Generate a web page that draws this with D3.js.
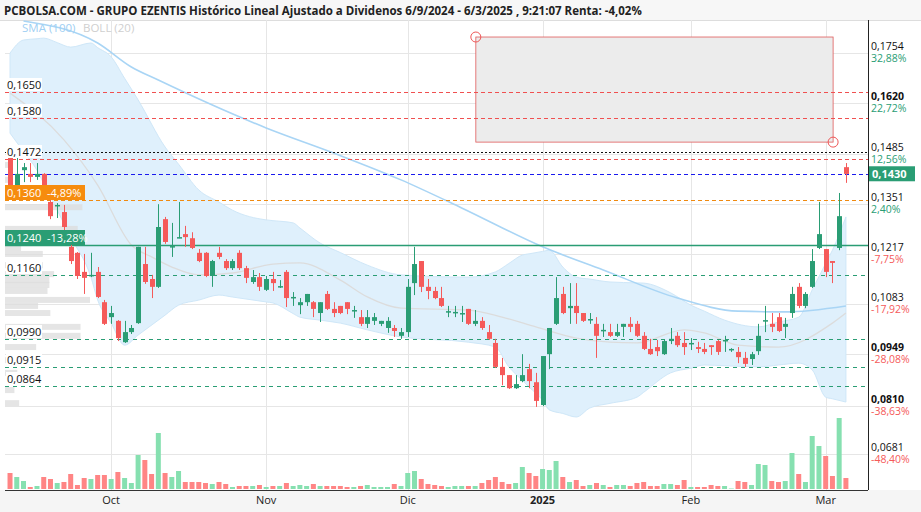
<!DOCTYPE html>
<html><head><meta charset="utf-8">
<script src="https://cdn.jsdelivr.net/npm/d3@7"></script>
<style>body{margin:0;background:#fff}svg{display:block;font-family:"Open Sans",sans-serif}</style>
</head><body><svg id="chart" width="921" height="512"></svg>
<script>
const opens = [.1474,.1399,.1441,.1431,.1423,.1431,.1356,.1345,.1329,.1236,.1220,.1169,.1158,.1169,.1088,.1048,.1038,.0981,.1008,.1032,.1190,.1150,.1129,.1310,.1236,.1259,.1270,.1259,.1220,.1220,.1158,.1220,.1198,.1179,.1220,.1179,.1142,.1155,.1121,.1150,.1129,.1169,.1099,.1080,.1088,.1088,.1059,.1110,.1070,.1078,.1088,.1064,.1048,.1030,.1038,.1030,.1019,.1019,.0998,.1008,.1139,.1198,.1129,.1118,.1099,.1062,.1059,.1057,.1070,.1030,.1038,.1008,.0979,.0915,.0893,.0858,.0877,.0909,.0874,.0813,.0949,.1030,.1110,.1072,.1078,.1059,.1040,.1030,.1011,.1008,.0998,.1022,.1030,.1030,.0998,.0963,.0968,.0949,.0984,.0998,.0979,.0976,.0968,.0963,.0973,.0984,.0984,.0960,.0955,.0939,.0936,.0957,.1038,.1030,.1048,.1022,.1059,.1129,.1078,.1129,.1233,.1230,.1198,.1233,.1449];
const highs = [.1495,.1474,.1460,.1460,.1460,.1433,.1361,.1353,.1348,.1249,.1222,.1217,.1220,.1182,.1094,.1078,.1040,.1038,.1027,.1236,.1236,.1161,.1350,.1316,.1300,.1356,.1292,.1275,.1230,.1222,.1201,.1236,.1203,.1203,.1227,.1185,.1174,.1166,.1158,.1169,.1147,.1174,.1115,.1099,.1110,.1091,.1088,.1118,.1088,.1078,.1088,.1078,.1067,.1067,.1059,.1038,.1048,.1027,.1019,.1150,.1236,.1198,.1150,.1129,.1129,.1078,.1078,.1078,.1070,.1067,.1048,.1027,.0990,.0939,.0893,.0893,.0949,.0923,.0899,.0944,.1019,.1155,.1129,.1139,.1139,.1059,.1059,.1048,.1030,.1030,.1030,.1030,.1048,.1038,.1008,.0990,.0987,.0987,.1019,.1008,.1008,.0992,.0982,.0979,.0973,.0987,.0998,.0965,.0968,.0955,.0955,.1030,.1078,.1059,.1059,.1046,.1129,.1139,.1115,.1230,.1356,.1230,.1198,.1380,.1460];
const lows = [.1388,.1393,.1409,.1409,.1415,.1361,.1310,.1313,.1276,.1190,.1150,.1110,.1155,.1099,.1027,.1030,.0984,.0979,.1003,.1030,.1137,.1099,.1126,.1244,.1209,.1259,.1236,.1230,.1195,.1155,.1129,.1203,.1174,.1174,.1174,.1139,.1137,.1118,.1118,.1118,.1126,.1075,.1078,.1056,.1078,.1048,.1035,.1067,.1048,.1056,.1056,.1046,.1024,.1019,.1027,.1024,.1006,.0995,.0990,.0995,.1107,.1115,.1096,.1096,.1075,.1048,.1048,.1035,.1027,.1024,.1014,.0987,.0912,.0866,.0856,.0856,.0874,.0858,.0808,.0810,.0909,.1027,.1056,.1030,.1030,.1035,.1030,.0939,.0995,.0995,.0995,.0995,.1008,.0995,.0960,.0947,.0944,.0947,.0976,.0968,.0947,.0960,.0952,.0949,.0947,.0947,.0955,.0955,.0925,.0915,.0920,.0947,.1008,.1008,.1008,.0992,.1046,.1072,.1072,.1126,.1230,.1155,.1139,.1227,.1407];
const closes = [.1399,.1431,.1449,.1423,.1431,.1369,.1318,.1348,.1289,.1198,.1158,.1153,.1161,.1102,.1030,.1059,.0992,.1008,.1019,.1236,.1142,.1129,.1289,.1249,.1238,.1262,.1262,.1233,.1198,.1158,.1198,.1209,.1179,.1198,.1179,.1153,.1155,.1129,.1150,.1139,.1131,.1099,.1102,.1088,.1110,.1070,.1088,.1070,.1059,.1059,.1070,.1067,.1030,.1048,.1048,.1038,.1038,.1011,.1008,.1129,.1190,.1129,.1118,.1099,.1078,.1064,.1062,.1059,.1030,.1038,.1019,.0990,.0915,.0893,.0858,.0869,.0893,.0877,.0824,.0944,.1019,.1099,.1059,.1078,.1059,.1038,.1043,.0998,.1014,.0998,.1008,.1030,.1022,.0998,.0963,.0949,.0957,.0984,.0990,.0973,.0968,.0979,.0963,.0955,.0968,.0955,.0987,.0963,.0941,.0923,.0949,.0998,.1040,.1022,.1011,.1030,.1110,.1078,.1110,.1198,.1270,.1169,.1193,.1318,.1431];
const volumes = [16,12,8,2,3,12,10,6,7,15,4,11,10,14,14,10,17,11,6,34,29,15,56,16,12,18,7,7,7,6,5,7,5,2,3,3,3,4,2,3,3,6,3,4,3,5,3,3,3,3,2,2,3,4,2,2,2,5,3,16,18,10,5,4,3,2,3,3,3,3,6,9,12,7,5,6,22,16,13,20,19,28,12,7,9,3,4,6,4,2,4,4,3,6,7,3,3,5,5,4,9,2,2,2,4,3,3,0.5,8,7,4,25,24,8,7,8,36,15,7,53,43,33,13,71,11];

// SMA(100) and Bollinger(20) read at candle indexes
const smaIdx = [2,13,18,22,38,48,58,67,79,88,99,108,115,124];
const smaVal = [.1840,.1781,.1717,.1682,.1554,.1487,.1415,.1340,.1236,.1174,.1099,.1064,.1062,.1078];
const upperIdx = [0,2,5,9,12,15,19,23,28,33,38,42,46,53,58,68,72,76,80,82,84,89,94,98,101,106,111,117,119,122,124];
const upperVal = [.1754,.1789,.1794,.1770,.1781,.1744,.1629,.1503,.1388,.1334,.1308,.1300,.1246,.1187,.1161,.1155,.1169,.1214,.1227,.1182,.1155,.1142,.1139,.1113,.1080,.1040,.1022,.1048,.1121,.1227,.1316];
const midIdx = [0,8,13,18,21,24,28,33,39,43,49,53,58,68,73,78,84,89,93,100,103,108,114,122,124];
const midVal = [.1647,.1522,.1401,.1241,.1209,.1182,.1161,.1166,.1190,.1193,.1147,.1102,.1072,.1067,.1048,.1022,.0992,.0981,.0979,.1014,.1006,.0973,.0968,.1032,.1059];
const lowerIdx = [0,4,7,12,13,15,17,19,25,31,39,43,49,53,58,68,72,74,77,79,80,84,86,93,98,103,111,114,117,119,121,124];
const lowerVal = [.1540,.1441,.1334,.1155,.1094,.1032,.0973,.1000,.1080,.1107,.1086,.1048,.1032,.1014,.0995,.0981,.0968,.0915,.0861,.0826,.0800,.0781,.0805,.0834,.0899,.0920,.0915,.0920,.0925,.0907,.0834,.0821];

// volume profile (price level, volume)
const profilePrice = [.1455,.1415,.1342,.1284,.1233,.1217,.1187,.1163,.1147,.1134,.1118,.1094,.1078,.1059,.1022,.0998,.0968,.0933,.0899,.0853,.0818];
const profileVol = [8,8,82,77,17,40,40,52,47,47,45,90,35,48,80,80,33,20,13,10,15];

const axisTicks = [.1754,.1620,.1485,.1351,.1217,.1083,.0949,.0810,.0681];
const axisPct = ["32,88%","22,72%","12,56%","2,40%","-7,75%","-17,92%","-28,08%","-38,63%","-48,40%"];
const monthNames = ["Oct","Nov","Dic","2025","Feb","Mar"];
const lastPrice = 0.1430;

// trading days, Spanish holidays removed
const holidays = ["2024-12-25","2024-12-26","2025-01-01"];
const dates = [];
for (let d = new Date(2025, 2, 6); dates.length < closes.length; d.setDate(d.getDate() - 1)) {
  const k = d3.timeFormat("%Y-%m-%d")(d);
  if (d.getDay() === 0 || d.getDay() === 6 || holidays.includes(k)) continue;
  dates.unshift(new Date(d));
}

const svg = d3.select("#chart");
const W = 921, pLeft = 5, pRight = 868, pTop = 20, pBottom = 490;
const x = d3.scaleLinear().domain([-0.3, 125.2]).range([8, 854]);
const y = d3.scaleLinear().domain([0.05858, 0.18425]).range([pBottom, pTop]);
const yV = d3.scaleLinear().domain([0, 71]).range([489, 418]);
const xP = d3.scaleLinear().domain([0, 90]).range([0, 85]);
const fmt = v => d3.format(".4f")(v).replace(".", ",");

svg.append("defs").append("clipPath").attr("id", "plot")
  .append("rect").attr("x", pLeft).attr("y", pTop).attr("width", pRight - pLeft).attr("height", pBottom - pTop);

// header
svg.append("rect").attr("width", W).attr("height", 20).attr("fill", "#f7f7f7");
svg.append("line").attr("x1", 0).attr("x2", W).attr("y1", 20.5).attr("y2", 20.5).attr("stroke", "#ddd");
svg.append("text").attr("x", 4).attr("y", 15).attr("font-size", 11.5).attr("font-weight", "bold").attr("fill", "#222")
  .text("PCBOLSA.COM - GRUPO EZENTIS Histórico Lineal Ajustado a Dividenos 6/9/2024 - 6/3/2025 , 9:21:07 Renta: -4,02%");

// bottom axis band
svg.append("rect").attr("x", 0).attr("y", pBottom).attr("width", W).attr("height", 22).attr("fill", "#f5f5f5");
svg.append("line").attr("x1", pLeft).attr("x2", pRight).attr("y1", pBottom + 0.5).attr("y2", pBottom + 0.5).attr("stroke", "#333");

const g = svg.append("g").attr("clip-path", "url(#plot)");

// grid
g.selectAll("line.hg").data(axisTicks).join("line")
  .attr("x1", pLeft).attr("x2", pRight).attr("y1", d => Math.round(y(d)) + 0.5).attr("y2", d => Math.round(y(d)) + 0.5)
  .attr("stroke", "#e6e6e6");
const monthIdx = [];
dates.forEach((d, i) => { if (i > 0 && d.getMonth() !== dates[i - 1].getMonth()) monthIdx.push(i); });
g.selectAll("line.vg").data(monthIdx).join("line")
  .attr("x1", d => Math.round(x(d)) + 0.5).attr("x2", d => Math.round(x(d)) + 0.5).attr("y1", pTop).attr("y2", pBottom)
  .attr("stroke", "#e6e6e6");
svg.selectAll("text.month").data(monthIdx).join("text")
  .attr("x", d => x(d)).attr("y", 504).attr("text-anchor", "middle").attr("font-size", 11)
  .attr("font-weight", (d, i) => monthNames[i] === "2025" ? "bold" : "normal").attr("fill", "#222")
  .text((d, i) => monthNames[i]);

// bollinger band
const upperF = d3.scaleLinear().domain(upperIdx).range(upperVal);
const lowerF = d3.scaleLinear().domain(lowerIdx).range(lowerVal);
const bandIdx = [...new Set([...upperIdx, ...lowerIdx])].sort((a, b) => a - b);
g.append("path").datum(bandIdx)
  .attr("d", d3.area().curve(d3.curveMonotoneX).x(d => x(d)).y0(d => y(lowerF(d))).y1(d => y(upperF(d))))
  .attr("fill", "#dff0fc").attr("stroke", "#cfe7f8");
g.append("path").datum(midIdx)
  .attr("d", d3.line().curve(d3.curveMonotoneX).x(d => x(d)).y((d, i) => y(midVal[i])))
  .attr("fill", "none").attr("stroke", "#dcdcdc").attr("stroke-width", 1.3);
g.append("path").datum(smaIdx)
  .attr("d", d3.line().curve(d3.curveMonotoneX).x(d => x(d)).y((d, i) => y(smaVal[i])))
  .attr("fill", "none").attr("stroke", "#a9d5f5").attr("stroke-width", 1.6);

// volume profile
g.selectAll("rect.vp").data(profilePrice).join("rect")
  .attr("x", pLeft).attr("y", d => y(d) - 3).attr("width", (d, i) => xP(profileVol[i])).attr("height", 6)
  .attr("fill", "#dcdcdc").attr("opacity", 0.75);

// volume bars
const up = closes.map((c, i) => c >= opens[i]);
g.selectAll("rect.vol").data(volumes).join("rect")
  .attr("x", (d, i) => x(i) - 2.5).attr("width", 5).attr("y", d => yV(d)).attr("height", d => 489 - yV(d))
  .attr("fill", (d, i) => up[i] ? "#86e0b0" : "#ff8585");

// sell zone box
const box = { i0: 69.1, i1: 122.1, p0: 0.1797, p1: 0.1516 };
g.append("rect").attr("x", x(box.i0)).attr("y", y(box.p0)).attr("width", x(box.i1) - x(box.i0)).attr("height", y(box.p1) - y(box.p0))
  .attr("fill", "#ececec").attr("stroke", "#e05a5a").attr("stroke-width", 0.8);
[[box.i0, box.p0], [box.i1, box.p1]].forEach(([i, p]) =>
  g.append("circle").attr("cx", x(i)).attr("cy", y(p)).attr("r", 5).attr("fill", "none").attr("stroke", "#ee5555"));

// reference lines
const levels = [
  { v: 0.1650, c: "#f05050", dash: "4,3", w: 1 },
  { v: 0.1580, c: "#f05050", dash: "4,3", w: 1 },
  { v: 0.1490, c: "#111", dash: "2,2", w: 1 },
  { v: 0.1472, c: "#f05050", dash: "4,3", w: 1 },
  { v: 0.1430, c: "#1a1aee", dash: "4,3", w: 1 },
  { v: 0.1360, c: "#f08a10", dash: "4,3", w: 1 },
  { v: 0.1240, c: "#2a9d74", dash: null, w: 1.3 },
  { v: 0.1160, c: "#2a9d74", dash: "4,4", w: 1 },
  { v: 0.0990, c: "#2a9d74", dash: "4,4", w: 1 },
  { v: 0.0915, c: "#2a9d74", dash: "4,4", w: 1 },
  { v: 0.0864, c: "#2a9d74", dash: "4,4", w: 1 }
];
g.selectAll("line.lvl").data(levels).join("line")
  .attr("x1", pLeft).attr("x2", pRight).attr("y1", d => Math.round(y(d.v)) + 0.5).attr("y2", d => Math.round(y(d.v)) + 0.5)
  .attr("stroke", d => d.c).attr("stroke-width", d => d.w).attr("stroke-dasharray", d => d.dash);

// candles
const candles = g.selectAll("g.c").data(closes).join("g");
candles.append("line")
  .attr("x1", (d, i) => Math.round(x(i)) + 0.5).attr("x2", (d, i) => Math.round(x(i)) + 0.5)
  .attr("y1", (d, i) => y(highs[i])).attr("y2", (d, i) => y(lows[i]))
  .attr("stroke", (d, i) => up[i] ? "#2a9d74" : "#f55a5a");
candles.append("rect")
  .attr("x", (d, i) => Math.round(x(i)) - 2).attr("width", 5)
  .attr("y", (d, i) => y(Math.max(opens[i], d)))
  .attr("height", (d, i) => Math.max(1.5, Math.abs(y(opens[i]) - y(d))))
  .attr("fill", (d, i) => up[i] ? "#2a9d74" : "#f55a5a");

// left labels
const plainLabels = [0.1650, 0.1580, 0.1472, 0.1160, 0.0990, 0.0915, 0.0864];
plainLabels.forEach(v => {
  const ty = Math.round(y(v)) - 3;
  svg.append("rect").attr("x", 6).attr("y", ty - 11).attr("width", 36).attr("height", 13).attr("fill", "#fff");
  svg.append("text").attr("x", 7).attr("y", ty).attr("font-size", 11).attr("fill", "#111").text(fmt(v));
});
const boxLabels = [
  { v: 0.1360, t: "0,1360  -4,89%", c: "#f68c0e" },
  { v: 0.1240, t: "0,1240  -13,28%", c: "#2a9d74" }
];
boxLabels.forEach(b => {
  const yy = Math.round(y(b.v));
  svg.append("rect").attr("x", 5).attr("y", yy - 15).attr("width", 80).attr("height", 15).attr("fill", b.c);
  svg.append("text").attr("x", 7).attr("y", yy - 3.5).attr("font-size", 11).attr("fill", "#fff")
    .style("white-space", "pre").text(b.t);
});

// legend
svg.append("text").attr("x", 22).attr("y", 32).attr("font-size", 11.5).attr("fill", "#9fcff3").text("SMA (100)");
svg.append("text").attr("x", 83).attr("y", 32).attr("font-size", 11.5).attr("fill", "#cfcfcf").text("BOLL (20)");

// right axis
svg.append("line").attr("x1", pRight + 0.5).attr("x2", pRight + 0.5).attr("y1", pTop).attr("y2", pBottom).attr("stroke", "#222");
const ra = svg.selectAll("g.ra").data(axisTicks).join("g").attr("transform", d => `translate(${pRight + 3},${y(d)})`);
ra.append("text").attr("y", -3).attr("font-size", 10.5).attr("fill", "#111")
  .attr("font-weight", d => [0.1620, 0.0949, 0.0810].includes(d) ? "bold" : "normal").text(fmt);
ra.append("text").attr("y", 9).attr("font-size", 10.5)
  .attr("fill", (d, i) => axisPct[i].startsWith("-") ? "#f55a5a" : "#2a9d74").text((d, i) => axisPct[i]);
const ly = y(lastPrice);
svg.append("rect").attr("x", pRight + 1).attr("y", ly - 8).attr("width", 46).attr("height", 15).attr("fill", "#2a9d74");
svg.append("text").attr("x", pRight + 4).attr("y", ly + 4).attr("font-size", 11).attr("font-weight", "bold").attr("fill", "#fff").text(fmt(lastPrice));
</script></body></html>
